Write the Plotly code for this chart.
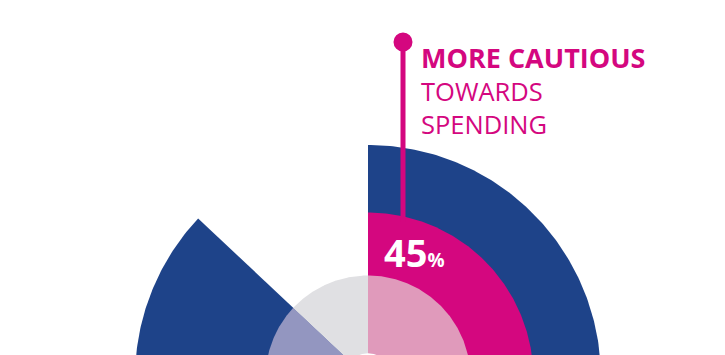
import numpy as np
import plotly.graph_objects as go

# ---- data ----
categories = ["More cautious towards spending", "Other respondents", "No answer"]
shares_pct = [45, 42, 13]            # share of the full circle
outer_band = [100, 100, 0]           # navy outer band radius
middle_band = [71, 0, 0]             # highlight band radius
inner_band = [44, 44, 44]            # inner disc radius
centre_hole = 10.6
highlight_label = "45"
headline = ["MORE CAUTIOUS", "TOWARDS", "SPENDING"]

NAVY = "#1E4389"
PINK = "#D4077F"
inner_colors = ["#E09ABB", "#9396C0", "#E0E0E3"]

# ---- geometry helpers (pixel layout) ----
W, H = 725, 355
CX, CY, SCALE = 368, 378, 2.33


def px(xp, yp):
    return (xp - CX) / SCALE, (CY - yp) / SCALE


def wedge(r, a0, a1):
    t = np.radians(np.linspace(a0, a1, 240))
    xs = list(r * np.sin(t))
    ys = list(r * np.cos(t))
    if a1 - a0 < 360:
        xs = [0] + xs + [0]
        ys = [0] + ys + [0]
    return xs, ys


fig = go.Figure()

starts = np.concatenate([[0], np.cumsum(shares_pct)[:-1]]) * 3.6
ends = np.cumsum(shares_pct) * 3.6


def add(xs, ys, color):
    fig.add_trace(go.Scatter(x=xs, y=ys, mode="lines", fill="toself",
                             fillcolor=color, line=dict(width=0, color=color),
                             hoverinfo="skip", showlegend=False))


for r, a0, a1 in zip(outer_band, starts, ends):
    if r > 0:
        add(*wedge(r, a0, a1), NAVY)
for r, a0, a1 in zip(middle_band, starts, ends):
    if r > 0:
        add(*wedge(r, a0, a1), PINK)
for r, a0, a1, c in zip(inner_band, starts, ends, inner_colors):
    if r > 0:
        add(*wedge(r, a0, a1), c)
add(*wedge(centre_hole, 0, 360), "#FFFFFF")

# leader line & dot
x0, y0 = px(403, 42)
x1, y1 = px(403, 222)
fig.add_shape(type="line", x0=x0, y0=y0, x1=x1, y1=y1,
              line=dict(color=PINK, width=5))
fig.add_shape(type="circle", xsizemode="pixel", ysizemode="pixel",
              xanchor=x0, yanchor=y0, x0=-9.5, x1=9.5, y0=-9.5, y1=9.5,
              fillcolor=PINK, line=dict(width=0))

FONT = "Open Sans"
for txt, yp, size, bold in [(headline[0], 57.5, 27, True),
                            (headline[1], 91, 25.5, False),
                            (headline[2], 124, 25.5, False)]:
    tx, ty = px(419, yp)
    fig.add_annotation(x=tx, y=ty, xanchor="left", yanchor="middle", align="left",
                       showarrow=False,
                       text=f"<b>{txt}</b>" if bold else txt,
                       font=dict(family=FONT, size=size, color=PINK))

lx, ly = px(382, 252)
fig.add_annotation(x=lx, y=ly, xanchor="left", yanchor="middle", showarrow=False,
                   text=f"<b>{highlight_label}</b><b><span style='font-size:19px'>%</span></b>",
                   font=dict(family=FONT, size=38, color="#FFFFFF"))

xa0, ya_top = px(0, 0)
xa1, ya_bot = px(W, H)
fig.update_xaxes(range=[xa0, xa1], visible=False, fixedrange=True)
fig.update_yaxes(range=[ya_bot, ya_top], visible=False, fixedrange=True)
fig.update_layout(width=W, height=H, autosize=False,
                  margin=dict(l=0, r=0, t=0, b=0),
                  paper_bgcolor="white", plot_bgcolor="white")

fig.write_html("out.html")
